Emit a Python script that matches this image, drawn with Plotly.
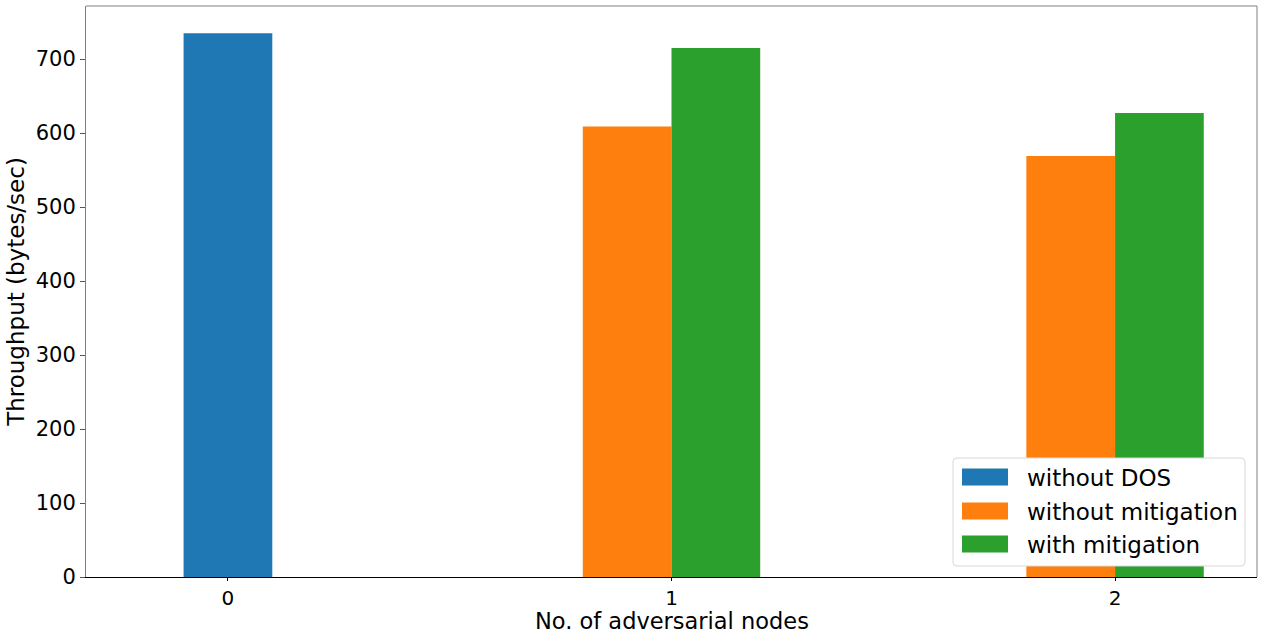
import plotly.graph_objects as go

# Throughput per number of adversarial nodes
nodes = [0, 1, 2]
tick_labels = ["0", "1", "2"]
without_dos = [735, 0, 0]
without_mitigation = [0, 609, 569]
with_mitigation = [0, 715, 627]

series_names = ["without DOS", "without mitigation", "with mitigation"]
colors = ["#1f77b4", "#ff7f0e", "#2ca02c"]

bar_w = 0.2
fig = go.Figure()
fig.add_trace(go.Bar(x=[n for n in nodes], y=without_dos, width=bar_w,
                     marker=dict(color=colors[0], line=dict(width=0)), name=series_names[0]))
fig.add_trace(go.Bar(x=[n - 0.1 for n in nodes], y=without_mitigation, width=bar_w,
                     marker=dict(color=colors[1], line=dict(width=0)), name=series_names[1]))
fig.add_trace(go.Bar(x=[n + 0.1 for n in nodes], y=with_mitigation, width=bar_w,
                     marker=dict(color=colors[2], line=dict(width=0)), name=series_names[2]))

W, H = 1268, 634
L, R, T, B = 86, 11, 6, 57
pw, ph = W - L - R, H - T - B

def px(x):
    return (x - L) / pw

def py(y):
    return (H - B - y) / ph

font = dict(family="DejaVu Sans", size=23, color="black")
xtitle_font = dict(family="DejaVu Sans", size=22.5, color="black")
tick_font = dict(family="DejaVu Sans", size=21, color="black")
xtick_font = dict(family="DejaVu Sans", size=20, color="black")

fig.update_layout(
    width=W, height=H,
    margin=dict(l=L, r=R, t=T, b=B, autoexpand=False),
    plot_bgcolor="white", paper_bgcolor="white",
    barmode="overlay",
    showlegend=False,
    font=font,
    xaxis=dict(
        range=[-0.32, 2.32], tickmode="array", tickvals=nodes, ticktext=tick_labels,
        showgrid=False, zeroline=False, showline=True, linecolor="black", linewidth=1,
        ticks="outside", ticklen=3, tickcolor="black", tickfont=xtick_font, automargin=False,
    ),
    yaxis=dict(
        range=[0, 771.75], tickmode="array", tickvals=[0, 100, 200, 300, 400, 500, 600, 700],
        showgrid=False, zeroline=False, showline=True, linecolor="#808080", linewidth=1,
        ticks="outside", ticklen=5, tickcolor="#555555", tickfont=tick_font, automargin=False,
        title=dict(text="Throughput (bytes/sec)", font=font, standoff=4),
    ),
)

# x-axis title placed just below the tick labels
fig.add_annotation(xref="paper", yref="paper", x=0.5, y=py(620.5),
                   text="No. of adversarial nodes", showarrow=False, borderpad=0,
                   xanchor="center", yanchor="middle", font=xtitle_font)

# top and right frame lines
fig.add_shape(type="line", xref="paper", yref="paper", x0=0, x1=1, y0=1, y1=1,
              line=dict(color="#808080", width=1))
fig.add_shape(type="line", xref="paper", yref="paper", x0=1, x1=1, y0=0, y1=1,
              line=dict(color="#808080", width=1))

# legend box with rounded corners
bx0, bx1, by0, by1, r = px(953), px(1245), py(566), py(458), 4
rx, ry = r / pw, r / ph
path = (f"M {bx0+rx},{by0} L {bx1-rx},{by0} Q {bx1},{by0} {bx1},{by0+ry} "
        f"L {bx1},{by1-ry} Q {bx1},{by1} {bx1-rx},{by1} L {bx0+rx},{by1} "
        f"Q {bx0},{by1} {bx0},{by1-ry} L {bx0},{by0+ry} Q {bx0},{by0} {bx0+rx},{by0} Z")
fig.add_shape(type="path", xref="paper", yref="paper", path=path,
              fillcolor="white", line=dict(color="#d8d8d8", width=1))

row_y = [477, 511, 544]
for name, c, yc in zip(series_names, colors, row_y):
    fig.add_shape(type="rect", xref="paper", yref="paper",
                  x0=px(962), x1=px(1008), y0=py(yc + 8.5), y1=py(yc - 8.5),
                  fillcolor=c, line=dict(width=0))
    fig.add_annotation(xref="paper", yref="paper", x=px(1025), y=py(yc + 1),
                       text=name, showarrow=False, xanchor="left", yanchor="middle",
                       font=font)

fig.write_html("out.html")
